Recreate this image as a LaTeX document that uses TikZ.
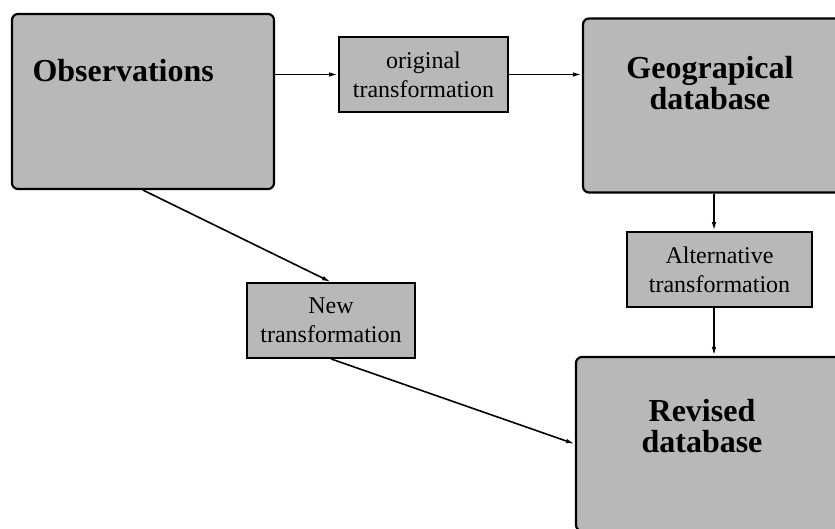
\documentclass[tikz,border=0pt]{standalone}
\usepackage{fontspec}
\setmainfont{Liberation Serif}
\usepackage{tikz}
\usetikzlibrary{calc}
\usetikzlibrary{arrows.meta}
\tikzset{%
  myedge/.style={-{Latex[length=9pt,width=4.5pt]}, line width=1.6pt},
  bigbox/.style={rectangle, rounded corners=6pt, draw=black, line width=2.2pt, fill=black!28},
  smallbox/.style={rectangle, draw=black, line width=1.8pt, fill=black!28, align=center,
    font=\fontsize{24}{29}\selectfont},
  bigtext/.style={font=\fontsize{32}{31}\selectfont\bfseries, align=center}
}

\begin{document}
\begin{tikzpicture}[x=1pt, y=-1pt]
  \clip (0,0) rectangle (835,529);
  \fill[white] (0,0) rectangle (835,529);

% big boxes
\node [bigbox, minimum width=262pt, minimum height=175pt] (obs) at (143,101.5) {};
\node [bigbox, minimum width=262pt, minimum height=174pt] (geo) at (714,105.5) {};
\node [bigbox, minimum width=276pt, minimum height=174pt] (rev) at (714,444) {};

% labels (base = last line)
\node [bigtext, anchor=base west] (obstext) at (29,82) {Observations};
\node [bigtext, anchor=base] (geotext) at (710,110) {Geograpical\\database};
\node [bigtext, anchor=base] (revtext) at (702,452) {Revised\\database};

% transformations
\node [smallbox, minimum width=169pt, minimum height=75pt] (orig) at (423.5,74.5) {original\\transformation};
\node [smallbox, minimum width=185pt, minimum height=75pt] (alt) at (719.5,269.5) {Alternative\\transformation};
\node [smallbox, minimum width=168pt, minimum height=75pt] (new) at (331,320.5) {New\\transformation};

% arrows
\draw [myedge] (orig.west -| obs.east) -- (orig.west);
\draw [myedge] (orig.east) -- (orig.east -| geo.west);
\draw [myedge] (geo.south) -- (geo.south |- alt.north);
\draw [myedge] (alt.south -| rev.north) -- (rev.north);
\draw [myedge] (obs.south) -- (new.north);
\draw [myedge] (new.south) -- (rev.west);

\end{tikzpicture}
\end{document}
